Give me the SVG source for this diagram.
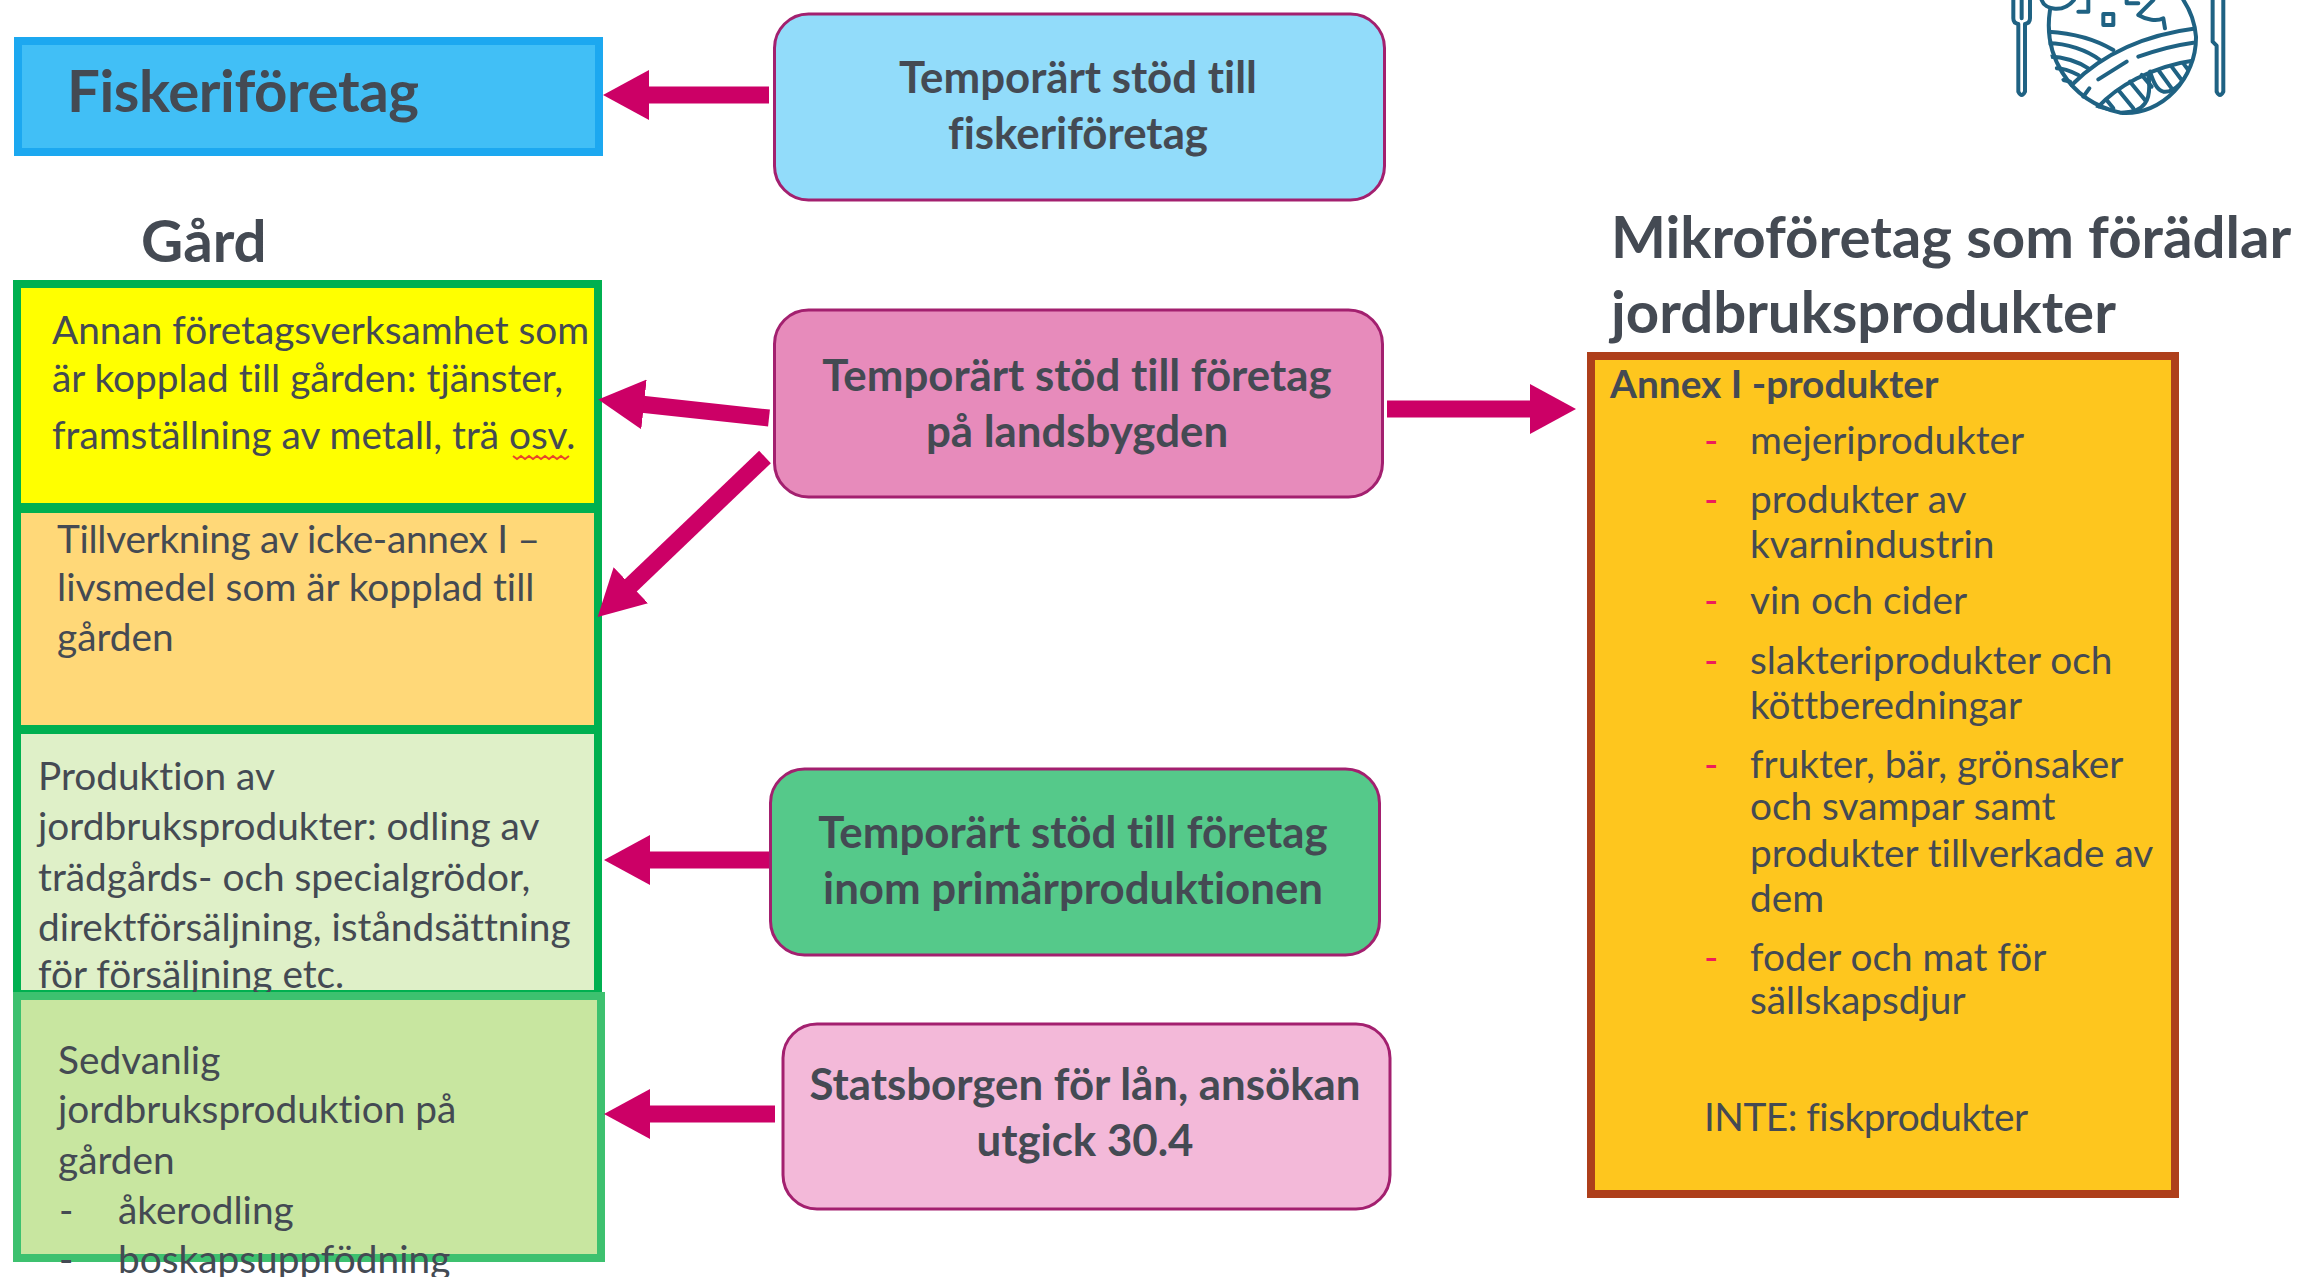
<svg xmlns="http://www.w3.org/2000/svg" width="2299" height="1277" viewBox="0 0 2299 1277">
<style>
text{font-family:Lato,"Liberation Sans",sans-serif;fill:#444A53;font-variant-ligatures:none;transform:translateY(1.2px)}
.b{font-size:38.8px}
.h{font-size:43.800px;font-weight:700;text-anchor:middle}
.t{font-size:58.200px;font-weight:700}
.r{stroke:#A3206F;stroke-width:3}
.ic{fill:none;stroke:#1F6283;stroke-width:12;stroke-linecap:round;stroke-linejoin:round}
.d{fill:#EE1C5C}
</style>
<defs>
<marker id="ah" markerUnits="userSpaceOnUse" markerWidth="46" markerHeight="50" refX="4" refY="25" orient="auto"><path d="M0 0L46 25L0 50z" fill="#CC0066"/></marker>
<clipPath id="plate"><circle cx="517" cy="115" r="222"/></clipPath>
</defs>
<rect width="2299" height="1277" fill="#fff"/>
<g id="icon" transform="translate(1950 0) scale(.3333)">
<path class="ic" d="M190 0V55Q190 70 205 72V275Q215 295 225 275V72Q240 70 240 55V0M215 0V55"/>
<path class="ic" d="M788 0V125L800 137V275Q810 295 820 275V0"/>
<path class="ic" d="M300 30C280 160 350 300 510 338C640 350 740 230 738 110C735 70 720 30 700 0"/>
<path class="ic" d="M275 0C285 30 340 40 372 0M385 35H415V0M530 0V10H565M610 0L565 45C590 60 620 65 640 55L645 85M460 42H490V75H460Z"/>
<g clip-path="url(#plate)">
<path class="ic" d="M295 95C380 100 440 120 490 150M295 130C350 130 410 150 450 180M300 170C340 170 385 185 415 205M320 205C340 205 365 215 385 225M340 240L360 245"/>
<path class="ic" d="M365 255C430 190 540 110 740 85M440 325C500 260 600 200 740 180M445 238L530 185M565 170C620 150 680 135 730 128M400 290L418 265"/>
<path class="ic" d="M445 322C490 345 560 345 585 310C600 290 600 260 595 225M600 215C610 245 620 270 640 275C680 280 710 230 730 190"/>
<path class="ic" d="M470 300L490 325M505 270L550 325M540 245L585 300M575 225L605 260M625 210L665 265M665 200L695 240M700 190L715 210"/>
</g>
</g>
<g id="fisk"><rect x="18" y="41" width="581" height="111" fill="#41BFF6" stroke="#1CA8F0" stroke-width="8"/><text class="t" x="67" y="111" textLength="352">Fiskeriföretag</text></g>
<g id="gard-title"><text class="t" x="141" y="261">Gård</text></g>
<g id="mikro-title"><text class="t" x="1611" y="257">Mikroföretag som förädlar</text><text class="t" x="1611" y="332">jordbruksprodukter</text></g>
<g id="n1"><rect x="17" y="284" width="581" height="223" fill="#FFFF00" stroke="#00B050" stroke-width="8"/>
<text class="b" x="52" y="343">Annan företagsverksamhet som</text><text class="b" x="52" y="391">är kopplad till gården: tjänster,</text><text class="b" x="52" y="448">framställning av metall, trä osv.</text>
<path d="M513 456l4 3 4-3 4 3 4-3 4 3 4-3 4 3 4-3 4 3 4-3 4 3 4-3 4 3 4-3" fill="none" stroke="#E8462A" stroke-width="2"/></g>
<g id="n2"><rect x="17" y="509" width="581" height="220" fill="#FFD878" stroke="#00B050" stroke-width="8"/>
<text class="b" x="57" y="552" textLength="483">Tillverkning av icke-annex I –</text><text class="b" x="57" y="600">livsmedel som är kopplad till</text><text class="b" x="57" y="650">gården</text></g>
<g id="n3"><rect x="17" y="730" width="581" height="264" fill="#DFF0C8" stroke="#00B050" stroke-width="8"/>
<text class="b" x="38" y="789">Produktion av</text><text class="b" x="38" y="839">jordbruksprodukter: odling av</text><text class="b" x="38" y="890">trädgårds- och specialgrödor,</text><text class="b" x="38" y="940">direktförsäljning, iståndsättning</text><text class="b" x="38" y="987">för försäljning etc.</text></g>
<g id="n4"><rect x="17" y="996" width="584" height="262" fill="#C8E6A0" stroke="#3DC16F" stroke-width="8"/>
<text class="b" x="58" y="1073">Sedvanlig</text><text class="b" x="58" y="1122">jordbruksproduktion på</text><text class="b" x="58" y="1173">gården</text><text class="b" x="59" y="1223">-</text><text class="b" x="118" y="1223">åkerodling</text><text class="b" x="59" y="1272">-</text><text class="b" x="118" y="1272">boskapsuppfödning</text></g>
<g id="b1"><rect class="r" x="774.500" y="14" width="610" height="186" rx="34" fill="#92DCFA"/><text class="h" x="1078" y="92">Temporärt stöd till</text><text class="h" x="1078" y="148">fiskeriföretag</text></g>
<g id="b2"><rect class="r" x="774.500" y="310" width="608" height="187" rx="34" fill="#E78BBB"/><text class="h" x="1077" y="390">Temporärt stöd till företag</text><text class="h" x="1077" y="446">på landsbygden</text></g>
<g id="b3"><rect class="r" x="770.500" y="769" width="609" height="186" rx="34" fill="#55C98A"/><text class="h" x="1073" y="847">Temporärt stöd till företag</text><text class="h" x="1073" y="903">inom primärproduktionen</text></g>
<g id="b4"><rect class="r" x="783" y="1024" width="607" height="185" rx="34" fill="#F3B9D9"/><text class="h" x="1085" y="1099">Statsborgen för lån, ansökan</text><text class="h" x="1085" y="1155">utgick 30.4</text></g>
<g id="annex"><rect x="1591" y="356" width="584" height="838" fill="#FEC61E" stroke="#AE3F1B" stroke-width="8"/>
<text class="b" x="1610" y="397" font-weight="700">Annex I -produkter</text>
<text class="b d" style="fill:#EE1C5C" x="1704" y="453">-</text><text class="b" x="1750" y="453">mejeriprodukter</text>
<text class="b d" style="fill:#EE1C5C" x="1704" y="512">-</text><text class="b" x="1750" y="512">produkter av</text><text class="b" x="1750" y="557">kvarnindustrin</text>
<text class="b d" style="fill:#EE1C5C" x="1704" y="613">-</text><text class="b" x="1750" y="613">vin och cider</text>
<text class="b d" style="fill:#EE1C5C" x="1704" y="673">-</text><text class="b" x="1750" y="673">slakteriprodukter och</text><text class="b" x="1750" y="718">köttberedningar</text>
<text class="b d" style="fill:#EE1C5C" x="1704" y="777">-</text><text class="b" x="1750" y="777">frukter, bär, grönsaker</text><text class="b" x="1750" y="819">och svampar samt</text><text class="b" x="1750" y="866">produkter tillverkade av</text><text class="b" x="1750" y="911">dem</text>
<text class="b d" style="fill:#EE1C5C" x="1704" y="970">-</text><text class="b" x="1750" y="970">foder och mat för</text><text class="b" x="1750" y="1013">sällskapsdjur</text>
<text class="b" x="1704" y="1130" textLength="324">INTE: fiskprodukter</text>
</g>
<g id="connectors" fill="none" stroke="#CC0066" stroke-width="17">
<path d="M769 95H645" marker-end="url(#ah)"/>
<path d="M769 418L640 404" marker-end="url(#ah)"/>
<path d="M765 457L628 588" marker-end="url(#ah)"/>
<path d="M769 860H646" marker-end="url(#ah)"/>
<path d="M775 1114H646" marker-end="url(#ah)"/>
<path d="M1387 409H1534" marker-end="url(#ah)"/>
</g>
</svg>
